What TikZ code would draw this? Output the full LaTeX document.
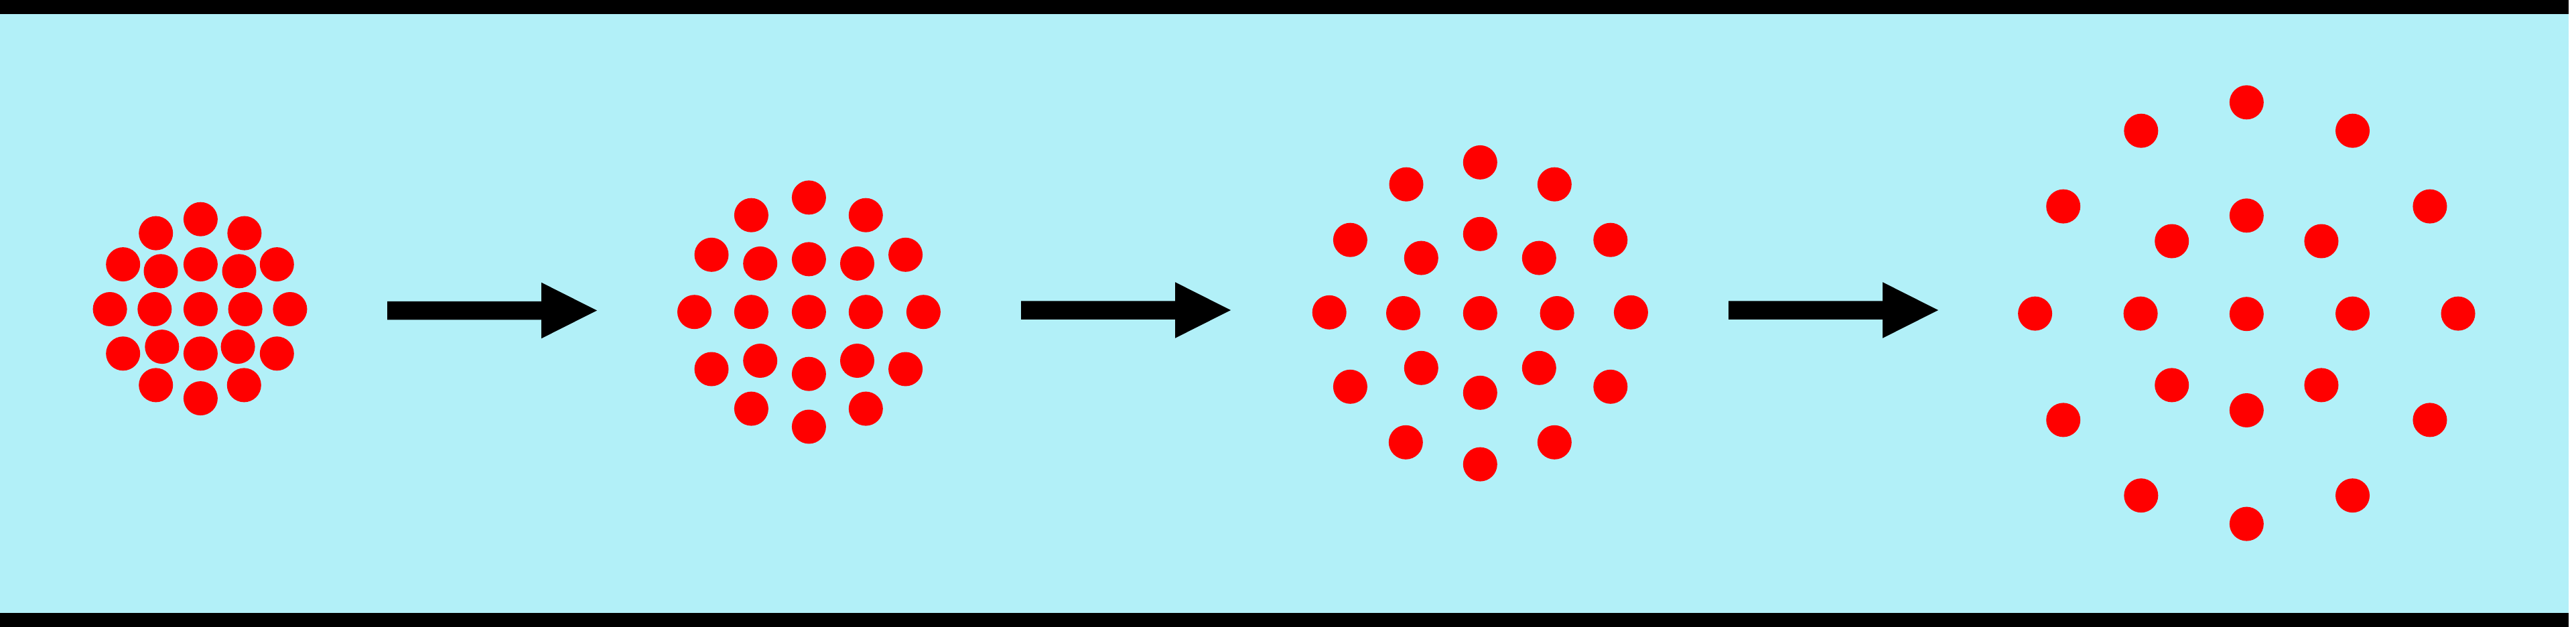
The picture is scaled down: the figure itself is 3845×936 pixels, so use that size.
\documentclass[tikz,border=0pt]{standalone}
\definecolor{bgcyan}{RGB}{178,240,248}
\definecolor{dotred}{RGB}{255,0,0}
\tikzset{
  dot/.style={circle,fill=dotred,draw=none,minimum size=51pt,inner sep=0pt,outer sep=0pt},
  bar/.style={fill=black,draw=none},
  flowarrow/.style={fill=black,draw=none}
}
\newcommand{\flowarr}[4]{% start x, head base x, tip x, y
  \coordinate (#1s) at (#2,#4);
  \coordinate (#1t) at (#3,#4);
  \fill[flowarrow] (#2,#4-13.75) -- (#3-83,#4-13.75) -- (#3-83,#4-41.8) -- (#1t)
    -- (#3-83,#4+41.8) -- (#3-83,#4+13.75) -- (#2,#4+13.75) -- cycle;
}
\begin{document}
\begin{tikzpicture}[x=1pt,y=-1pt]
\useasboundingbox (0,0) rectangle (3845,936);
\fill[white] (0,0) rectangle (3845,936);
\fill[bgcyan] (0,21) rectangle (3834,915);
\fill[bar] (0,0) rectangle (3834,21);
\fill[bar] (0,915) rectangle (3834,936);

% stage 1
\foreach \x/\y [count=\i] in {299.4/327.2, 232.7/348.1, 364.9/348.1,
  183.7/394.6, 240/404.8, 299.4/394.6, 357/404.8, 413.3/394.6,
  164.1/461.5, 230.8/461.5, 299.4/461.5, 366.1/461.5, 432.9/461.5,
  183.7/527.8, 241.8/517.6, 299.4/527.8, 355.1/517.6, 413.3/527.8,
  232.7/574.9, 364.3/574.9, 299.4/594.6}
  \node[dot] (a\i) at (\x,\y) {};

% stage 2
\foreach \x/\y [count=\i] in {1207.4/294.9, 1121.4/321.2, 1292.3/321.2,
  1062/380.3, 1134.7/393.4, 1207.4/386.9, 1279.5/393.4, 1351.6/380.3,
  1036.5/465.7, 1121.4/465.7, 1207.4/465.7, 1292.3/465.7, 1378.4/465.7,
  1062/551, 1134.7/538.5, 1207.4/558.2, 1279.5/538.5, 1351.6/551,
  1121.4/610.1, 1292.3/610.1, 1207.4/637}
  \node[dot] (b\i) at (\x,\y) {};

% stage 3
\foreach \x/\y [count=\i] in {2209.3/242.4, 2099/275.2, 2320.3/275.2,
  2015.4/358.2, 2403.8/358.2, 2209.3/349.3, 2121.3/385.1, 2297.3/385.1,
  1984.2/466.3, 2094.5/467.5, 2209.3/467.5, 2324.1/467.5, 2434.4/466.3,
  2121.3/549.3, 2297.3/549.3, 2209.3/586.3, 2015.4/577.3, 2403.8/577.3,
  2098.3/660.3, 2320.3/660.3, 2209.3/693.1}
  \node[dot] (c\i) at (\x,\y) {};

% stage 4
\foreach \x/\y [count=\i] in {3353.3/152.8, 3195.8/195.2, 3511.5/195.2,
  3079.7/308.1, 3626.9/308.1, 3353.3/321.8, 3241.7/360, 3464.9/360,
  3037.6/468.1, 3195.1/468.1, 3353.3/468.7, 3511.5/468.1, 3669/468.1,
  3241.7/574.9, 3464.9/574.9, 3353.3/612.5, 3079.7/626.9, 3626.9/626.9,
  3195.8/739.7, 3511.5/739.7, 3353.3/782.1}
  \node[dot] (d\i) at (\x,\y) {};

% arrows
\flowarr{arA}{578}{891}{463.5}
\flowarr{arB}{1524}{1837}{463}
\flowarr{arC}{2580}{2893}{463}
\end{tikzpicture}
\end{document}
